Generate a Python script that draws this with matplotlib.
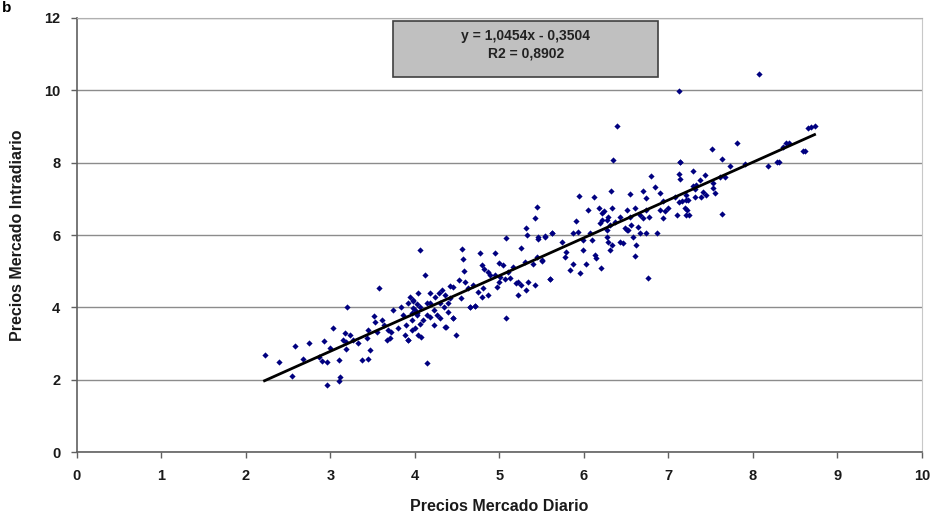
import numpy as np
import matplotlib
matplotlib.use("Agg")
import matplotlib.pyplot as plt
from matplotlib.patches import Rectangle

plt.rcParams['font.family'] = ['Liberation Sans', 'DejaVu Sans']

# daily market price (x) vs intraday market price (y)
diario = [
    2.22, 2.39, 2.55, 2.58, 2.75, 2.68, 2.86, 2.90, 2.96, 2.92, 2.99, 3.03, 3.10, 3.11, 3.10, 2.96,
    3.17, 3.19, 3.15, 3.23, 3.27, 3.20, 3.18, 3.33, 3.37, 3.45, 3.47, 3.45, 3.43, 3.51, 3.53, 3.57,
    3.61, 3.63, 3.55, 3.67, 3.68, 3.70, 3.74, 3.72, 3.80, 3.84, 3.86, 3.90, 3.88, 3.92, 3.94, 3.98,
    3.96, 4.02, 4.02, 4.00, 3.92, 4.04, 3.98,
    5.08, 4.49, 4.14, 4.07, 3.92, 3.96, 4.37, 4.45, 4.65, 4.71, 4.22, 4.30, 4.06,
    4.06, 4.12, 5.45, 5.42, 5.32, 5.33, 5.46, 5.54, 5.62, 5.08, 5.26, 4.56, 4.57, 4.77, 4.95, 4.99,
    5.04, 4.82, 4.58, 4.89, 4.95, 5.01, 5.07, 4.99, 4.97, 4.81, 4.75, 4.79, 4.87, 4.52, 4.59, 4.63,
    4.69, 4.55, 4.65, 4.71, 4.45, 4.41, 4.32, 4.28, 4.36, 4.24, 4.18, 4.18, 4.14, 4.04, 3.98, 4.06,
    4.00, 4.34, 4.39, 4.42, 4.30, 4.22, 4.14, 4.26, 4.45, 5.22, 5.20, 5.26, 5.34, 5.32, 5.22, 5.42,
    5.60, 5.30, 5.44, 5.50, 5.40, 5.16, 5.10, 4.79, 4.86, 5.12,
    4.02, 4.10, 4.36, 4.18, 3.96, 4.39,
    6.34, 7.14, 6.80, 7.12, 6.84, 6.32, 5.94, 6.12, 6.55, 6.70, 6.73, 6.90, 7.08, 7.12, 7.21, 6.94,
    6.05, 6.18, 6.33, 6.22, 6.24, 6.29, 6.27, 6.21, 6.19, 6.31, 6.37, 6.43, 6.51, 6.60, 6.55, 6.56,
    6.49, 6.52, 6.66, 6.70, 6.73, 6.77, 6.64, 6.66, 6.73, 6.86, 6.90, 6.96, 6.94, 7.00, 7.10, 7.22,
    7.24, 5.91, 5.93, 5.87, 5.62, 5.54, 5.46, 5.74, 5.79, 5.78, 5.87, 5.99, 6.03, 5.95, 5.83, 5.60,
    6.13, 6.14, 6.20, 6.07, 6.09, 6.27, 6.29, 6.33, 6.31, 6.27, 6.43, 6.46, 6.51, 6.58, 6.62, 6.61,
    6.76, 5.99, 5.50,
    8.07, 8.69, 8.73, 8.65, 8.39, 8.43, 8.36, 8.59, 8.62, 7.81, 7.52, 7.64, 7.73, 7.91, 8.18, 8.28,
    8.31, 7.14, 7.29, 7.37, 7.43, 7.33, 7.29, 7.31, 7.41, 7.53, 7.61, 7.67, 7.53, 7.55, 7.45, 7.39,
    7.31, 7.21, 7.23, 7.16, 7.20, 7.21, 7.63, 7.14,
    7.12, 6.39,
]
intradiario = [
    2.68, 2.50, 2.11, 2.93, 3.02, 2.56, 2.64, 2.52, 2.50, 3.07, 2.87, 3.42, 2.54, 2.08, 1.97, 1.85,
    3.28, 3.05, 3.11, 3.23, 3.10, 4.02, 2.84, 3.02, 2.54, 2.56, 2.82, 3.37, 3.14, 3.76, 3.60, 4.53,
    3.65, 3.51, 3.33, 3.10, 3.37, 3.14, 3.93, 3.33, 3.42, 4.02, 3.79, 3.51, 3.23, 3.10, 4.29, 3.97,
    3.65, 3.83, 4.08, 3.42, 4.11, 3.23, 4.17,
    3.70, 3.23, 2.47, 3.19, 3.10, 3.37, 3.46, 3.70, 4.02, 4.04, 3.51, 3.70, 3.55,
    5.58, 4.89, 6.78, 6.46, 6.18, 6.00, 5.95, 5.97, 6.06, 5.91, 5.63, 5.60, 5.35, 5.49, 5.49, 5.23,
    5.17, 5.05, 5.00, 4.89, 4.89, 4.83, 4.77, 4.71, 4.55, 4.53, 4.43, 4.29, 4.34, 4.76, 4.71, 4.53,
    4.62, 4.25, 4.02, 4.04, 4.57, 4.59, 4.48, 4.39, 4.34, 4.29, 4.39, 4.11, 4.11, 4.39, 4.20, 4.02,
    3.93, 4.02, 4.11, 4.25, 4.11, 3.93, 3.79, 3.79, 3.70, 4.71, 4.66, 4.62, 4.71, 4.48, 4.34, 4.62,
    4.77, 5.26, 5.40, 5.29, 5.21, 5.12, 4.98, 5.17, 4.98, 4.80,
    3.79, 3.65, 3.46, 3.74, 3.84, 3.88,
    8.07, 8.01, 7.64, 7.70, 7.34, 7.23, 7.09, 7.06, 7.12, 7.23, 7.01, 7.15, 7.06, 6.92, 6.97, 6.95,
    6.69, 6.74, 6.76, 6.60, 6.65, 6.51, 6.41, 6.41, 6.34, 6.28, 6.37, 6.51, 6.69, 6.74, 6.51, 6.28,
    6.18, 6.14, 6.55, 6.46, 6.69, 6.51, 6.23, 6.05, 6.05, 6.05, 6.69, 6.65, 6.46, 6.74, 6.55, 6.69,
    6.55, 6.40, 6.09, 6.05, 6.06, 5.95, 5.90, 5.82, 5.54, 5.40, 5.21, 5.58, 5.21, 4.94, 5.03, 4.77,
    5.45, 5.37, 5.08, 6.05, 5.86, 5.95, 5.82, 5.72, 5.58, 6.14, 5.82, 5.77, 6.14, 5.95, 5.72, 5.42,
    4.80, 5.86, 5.31,
    10.45, 8.99, 9.01, 8.95, 8.53, 8.53, 8.44, 8.33, 8.33, 8.53, 8.39, 8.09, 7.91, 7.95, 7.91, 8.03,
    8.01, 8.03, 7.77, 7.52, 7.66, 7.38, 7.35, 7.27, 7.20, 7.29, 7.61, 7.59, 7.43, 7.15, 7.11, 7.06,
    7.06, 7.11, 6.97, 6.94, 6.74, 6.55, 6.58, 7.56,
    9.99, 9.02,
]

# trend line shown in the box
pendiente = 1.0454
ordenada = -0.3504
r2 = 0.8902

x_ticks = list(range(0, 11))
y_ticks = [0, 2, 4, 6, 8, 10, 12]

fig = plt.figure(figsize=(9.34, 5.17), dpi=100)
ax = fig.add_axes([0.0824, 0.1257, 0.9046, 0.8395])

ax.grid(axis='y', color='#8c8c8c', linewidth=1.0)
ax.set_axisbelow(True)

ax.scatter(diario, intradiario, marker='D', s=10, color='#000080', linewidths=0, zorder=3)

xl = np.array([min(diario), max(diario)])
ax.plot(xl, pendiente * xl + ordenada, color='black', linewidth=2, zorder=4)

ax.set_xlim(0, 10)
ax.set_ylim(0, 12)
ax.set_xticks(x_ticks)
ax.set_yticks(y_ticks)
ax.tick_params(direction='out', length=4, width=1, color='#606060', labelsize=10.5, pad=8)
for lab in ax.get_xticklabels() + ax.get_yticklabels():
    lab.set_fontweight('bold')
    lab.set_color('#1a1a1a')

for s in ['left', 'bottom']:
    ax.spines[s].set_color('#606060')
    ax.spines[s].set_linewidth(1.2)
ax.spines['right'].set_color('#c8c8c8')
ax.spines['top'].set_color('#b0b0b0')

ax.set_xlabel('Precios Mercado Diario', fontsize=11.5, fontweight='bold', labelpad=12, color='#1a1a1a')
ax.set_ylabel('Precios Mercado Intradiario', fontsize=11.5, fontweight='bold', labelpad=14, color='#1a1a1a')

# equation box
box = Rectangle((0.374, 0.864), 0.314, 0.128, transform=ax.transAxes, facecolor='#c0c0c0',
                edgecolor='#404040', linewidth=1.2, zorder=5)
ax.add_patch(box)
eq = f"y = {pendiente:.4f}x - {abs(ordenada):.4f}".replace('.', ',')
ax.text(0.531, 0.958, eq, transform=ax.transAxes, ha='center', va='center', fontsize=10,
        fontweight='bold', color='#222222', zorder=6)
ax.text(0.531, 0.918, f"R2 = {r2:.4f}".replace('.', ','), transform=ax.transAxes, ha='center',
        va='center', fontsize=10, fontweight='bold', color='#222222', zorder=6)

# panel letter at the corner
fig.text(0.002, 0.998, 'b', fontsize=11, fontweight='bold', ha='left', va='top')

fig.savefig('out.png', dpi=100)
